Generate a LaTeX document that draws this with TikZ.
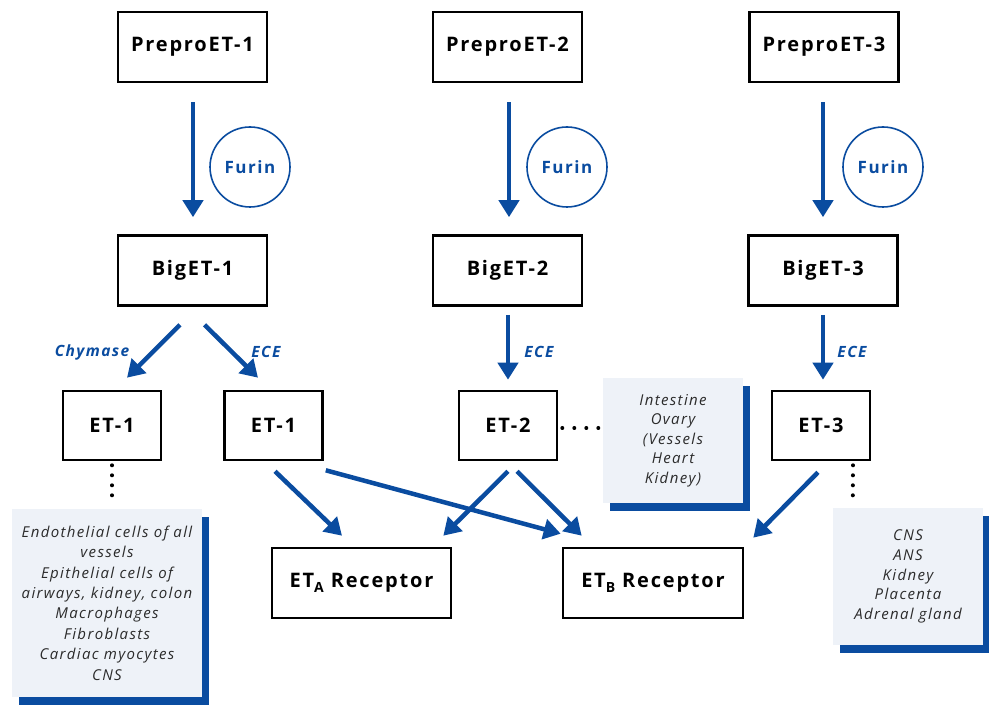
\documentclass[tikz,border=0pt]{standalone}
\usepackage{fontspec}
\setmainfont{Open Sans}
\newfontfamily\bx[LetterSpace=9]{Open Sans}
\newfontfamily\ix[LetterSpace=9]{Open Sans}
\usetikzlibrary{arrows.meta,calc,shadows}
\definecolor{eblue}{HTML}{0A4CA0}
\definecolor{infobg}{HTML}{EEF2F8}
\definecolor{infotxt}{HTML}{2B2B2B}
\begin{document}
\begin{tikzpicture}[x=1pt,y=-1pt,
  box/.style={draw=black,line width=2.6pt,minimum width=149pt,minimum height=70pt,inner sep=0pt,
    font=\bx\bfseries\fontsize{20}{22}\selectfont},
  etbox/.style={box,minimum width=98pt,minimum height=69pt},
  recbox/.style={box,minimum width=179pt},
  furin/.style={circle,draw=eblue,line width=1.6pt,minimum size=80pt,inner sep=0pt,text=eblue,
    font=\bx\bfseries\fontsize{17}{20}\selectfont},
  arr/.style={draw=eblue,line width=4.5pt,-{Triangle[width=20pt,length=17pt]}},
  enz/.style={text=eblue,inner sep=0pt,font=\bx\bfseries\itshape\fontsize{15.5}{18}\selectfont},
  info/.style={fill=infobg,text=infotxt,align=center,inner sep=0pt,
    font=\ix\itshape\fontsize{15}{19.6}\selectfont,
    drop shadow={shadow xshift=7pt,shadow yshift=-8pt,fill=eblue,opacity=1}},
  dots/.style={draw=black,line width=4pt,line cap=round,dash pattern=on 0pt off 10pt}
]
\useasboundingbox (0,0) rectangle (989,708);
\fill[white] (0,0) rectangle (989,708);

% top row
\node[box] (pp1) at (192.5,47) {PreproET-1};
\node[box] (pp2) at (507.5,47) {PreproET-2};
\node[box] (pp3) at (824,47) {PreproET-3};
% big ET
\node[box] (big1) at (192.5,270.5) {BigET-1};
\node[box] (big2) at (507.5,270.5) {BigET-2};
\node[box] (big3) at (823,270.5) {BigET-3};
% furin
\node[furin] (f1) at (250,167) {Furin};
\node[furin] (f2) at (567,167) {Furin};
\node[furin] (f3) at (883,167) {Furin};
% ET boxes
\node[etbox] (et1a) at (112,425.5) {ET-1};
\node[etbox] (et1b) at (273.5,425.5) {ET-1};
\node[etbox] (et2) at (508,425.5) {ET-2};
\node[etbox] (et3) at (821,425.5) {ET-3};
% receptors
\node[recbox] (etA) at (361.5,583) {ET\raisebox{-5pt}{\fontsize{14}{14}\selectfont A}\ Receptor};
\node[recbox,minimum width=180pt] (etB) at (653,583) {ET\raisebox{-5pt}{\fontsize{14}{14}\selectfont B}\ Receptor};

% info boxes
\node[info,minimum width=190pt,minimum height=188pt,font=\ix\itshape\fontsize{15}{20.4}\selectfont] (info1) at (107,603)
  {Endothelial cells of all\\vessels\\Epithelial cells of\\airways, kidney, colon\\Macrophages\\Fibroblasts\\Cardiac myocytes\\CNS};
\node[info,minimum width=140pt,minimum height=125pt] (info2) at (673,440.5)
  {Intestine\\Ovary\\(Vessels\\Heart\\Kidney)};
\node[info,minimum width=150pt,minimum height=137pt] (info3) at (908,576.5)
  {CNS\\ANS\\Kidney\\Placenta\\Adrenal gland};

% enzyme labels
\node[enz] (chy) at (92,352) {Chymase};
\node[enz] (ece1) at (266,352) {ECE};
\node[enz] (ece2) at (539,352) {ECE};
\node[enz] (ece3) at (852,352) {ECE};

% furin arrows
\draw[arr] ($(pp1.south)+(0.5,19)$) -- ($(big1.north)+(0.5,-17)$);
\draw[arr] ($(pp2.south)+(1.5,19)$) -- ($(big2.north)+(1.5,-17)$);
\draw[arr] ($(pp3.south)+(-1,19)$) -- ($(big3.north)+(0,-17)$);
% BigET-1 split
\draw[arr] ($(big1.south)+(-12.5,18)$) -- ($(et1a.north)+(15,-12)$);
\draw[arr] ($(big1.south)+(12,18)$) -- ($(et1b.north)+(-15.5,-12)$);
% ECE arrows
\draw[arr] ($(big2.south)+(0.5,8)$) -- ($(et2.north)+(0,-10)$);
\draw[arr] ($(big3.south)+(0,8)$) -- ($(et3.north)+(2,-10)$);
% to receptors
\draw[arr] ($(et1b.south)+(1.5,10)$) -- ($(etA.north)+(-19.5,-11)$);
\draw[arr] ($(et1b.south east)+(2,9)$) -- ($(etB.north west)+(-1,-13)$);
\draw[arr] ($(et2.south)+(0,10)$) -- ($(etA.north east)+(-9,-11)$);
\draw[arr] ($(et2.south)+(9,10)$) -- ($(etB.north west)+(20,-11)$);
\draw[arr] ($(et3.south)+(-3,11)$) -- ($(etB.north east)+(9,-9)$);

% dotted links
\draw[dots] ($(et1a.south)+(0,4)$) -- ($(info1.north)+(5,-4)$);
\draw[dots,dash pattern=on 0pt off 12pt] ($(et2.east)+(4,2.5)$) -- ($(info2.west)+(0,-12.5)$);
\draw[dots] ($(et3.south)+(32,4)$) -- ($(info3.north west)+(20,-4)$);
\end{tikzpicture}
\end{document}
